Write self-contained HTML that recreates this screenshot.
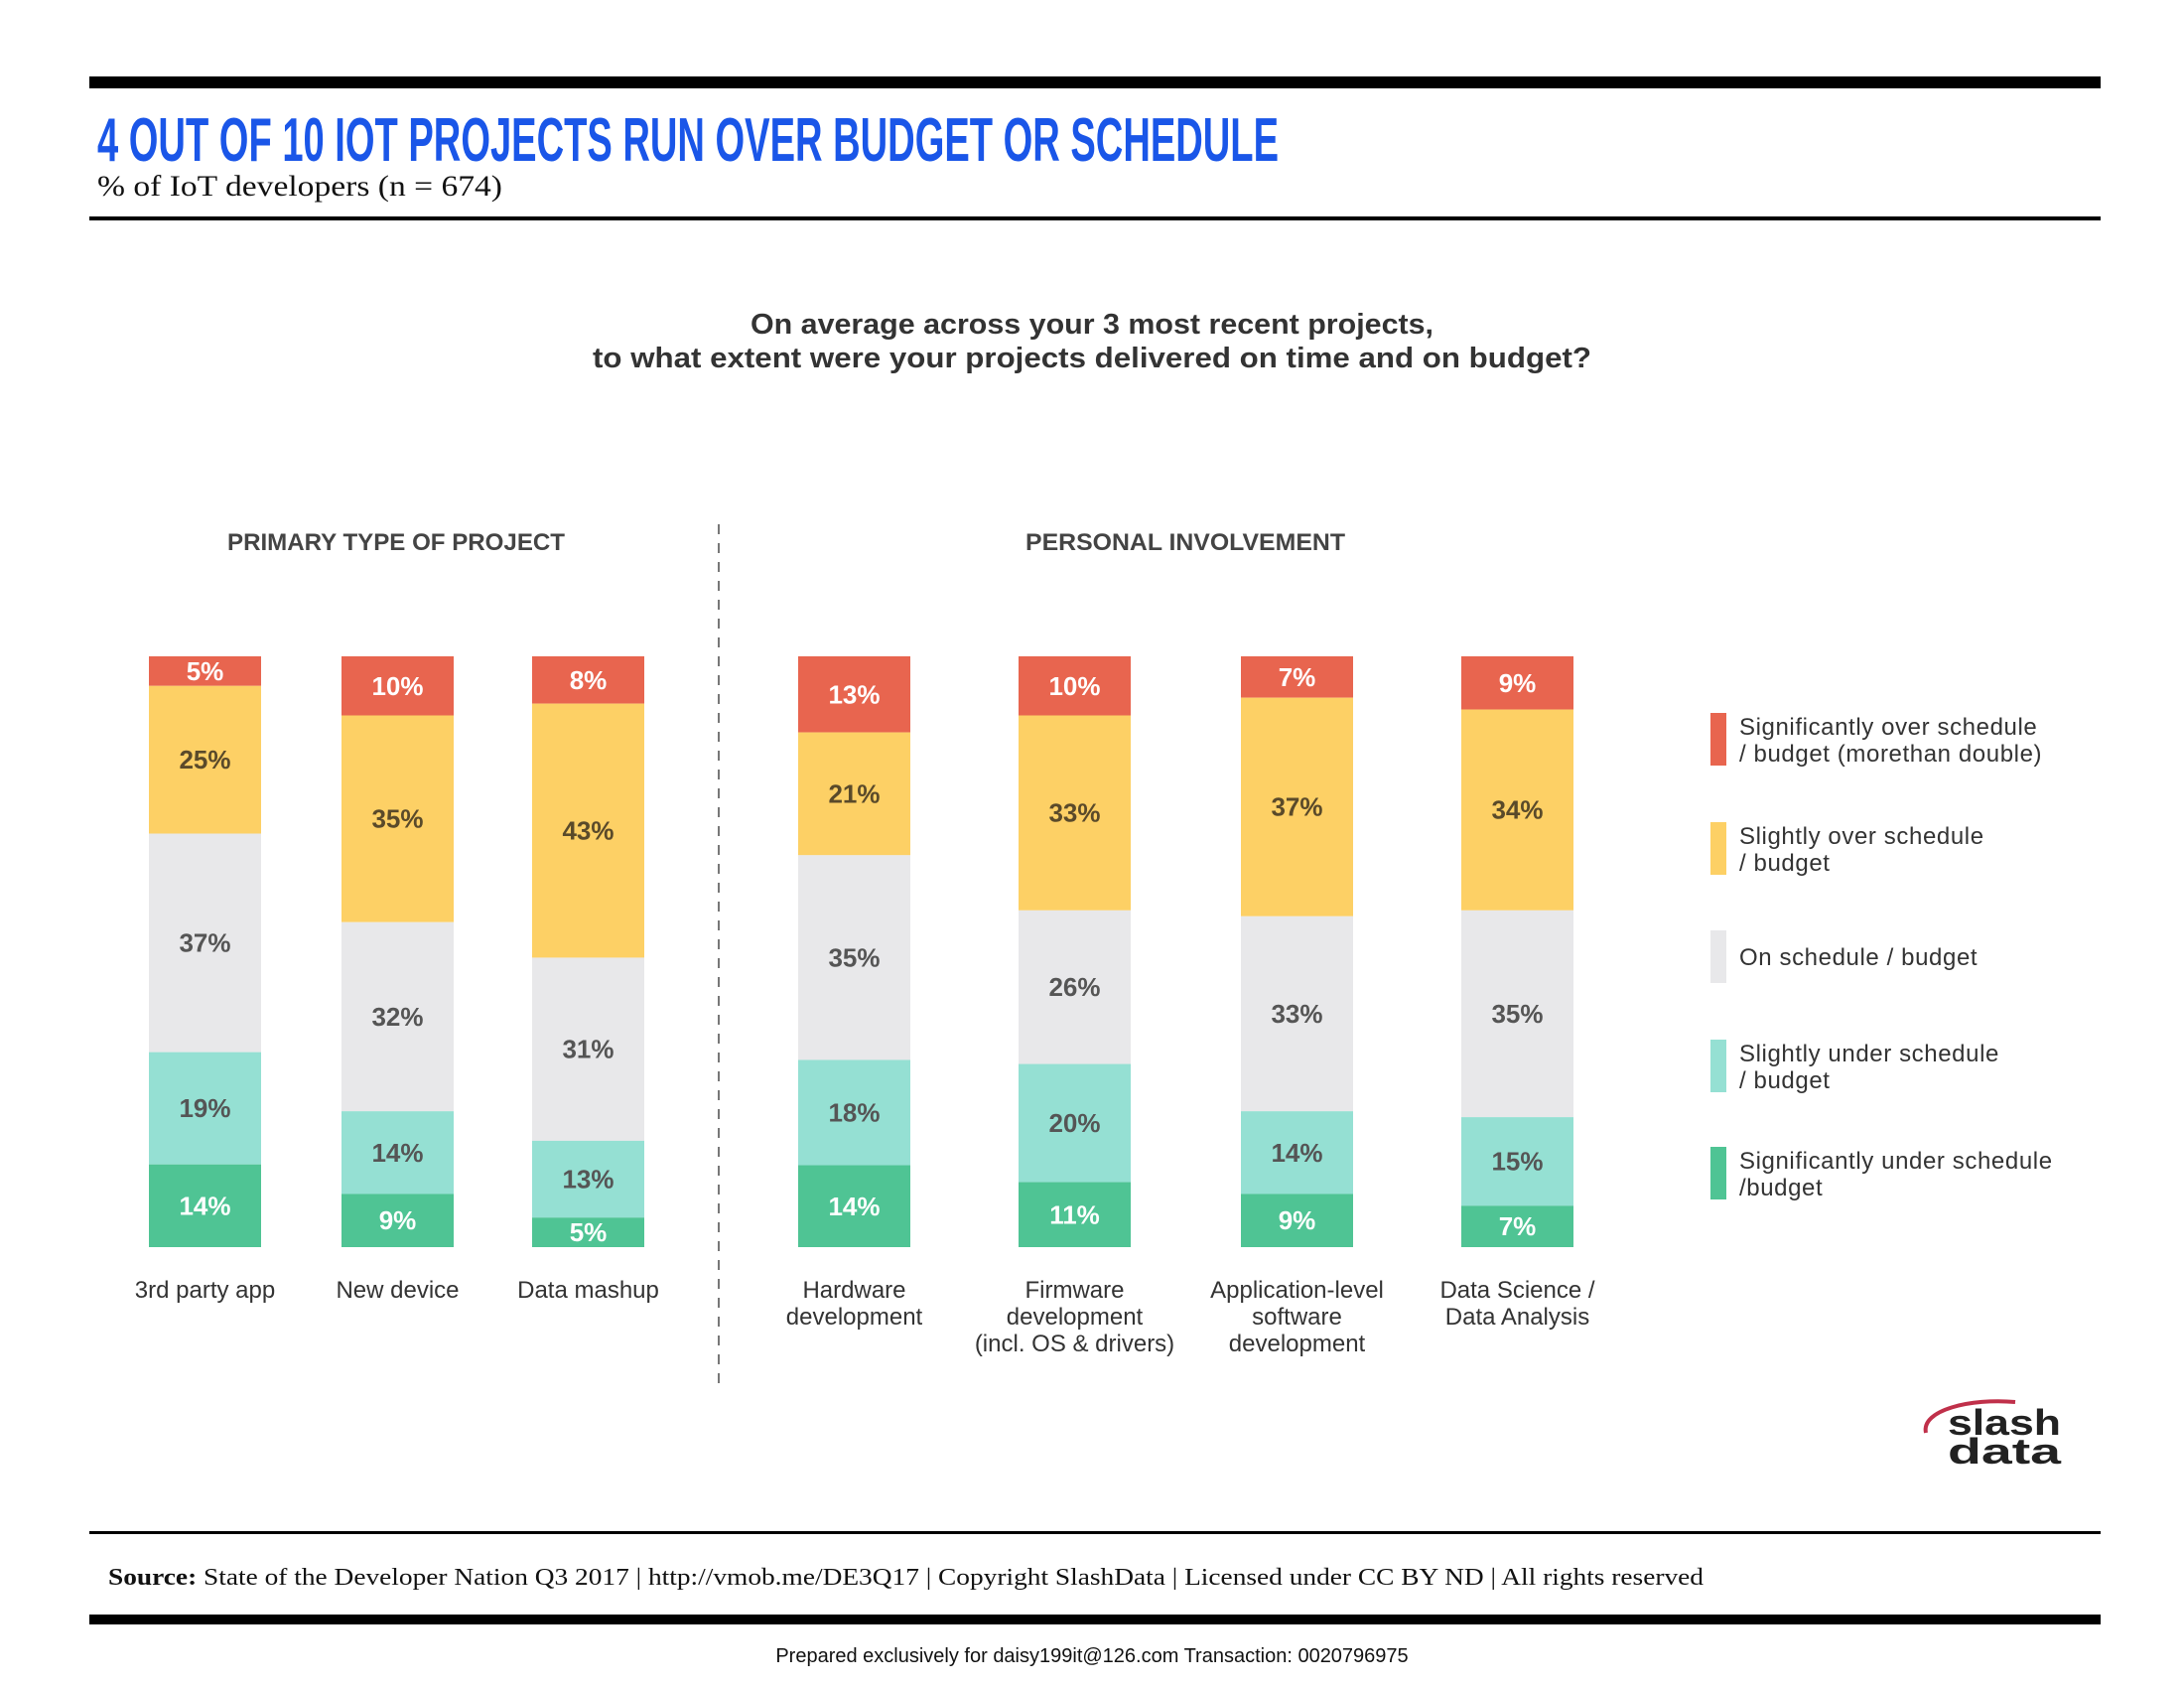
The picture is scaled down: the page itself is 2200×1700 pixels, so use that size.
<!DOCTYPE html>
<html><head><meta charset="utf-8"><style>
html,body{margin:0;padding:0;background:#fff;}
svg{display:block;}
</style></head><body>
<svg id="chart" width="2200" height="1700" xmlns="http://www.w3.org/2000/svg">
<rect x="0" y="0" width="2200" height="1700" fill="#fff"/>
<rect x="90" y="77" width="2026" height="12" fill="#000"/>
<text x="98" y="162" font-family="'Liberation Sans Narrow','Liberation Sans',sans-serif" font-weight="bold" font-size="62" fill="#1a56e8" textLength="1190" lengthAdjust="spacingAndGlyphs">4 OUT OF 10 IOT PROJECTS RUN OVER BUDGET OR SCHEDULE</text>
<text x="98" y="197" font-family="'Liberation Serif',serif" font-size="30" fill="#111" textLength="408" lengthAdjust="spacingAndGlyphs">% of IoT developers (n = 674)</text>
<rect x="90" y="218" width="2026" height="4" fill="#000"/>
<text x="1100" y="336" text-anchor="middle" font-family="'Liberation Sans',sans-serif" font-weight="bold" font-size="29" fill="#333" textLength="688" lengthAdjust="spacingAndGlyphs">On average across your 3 most recent projects,</text>
<text x="1100" y="370" text-anchor="middle" font-family="'Liberation Sans',sans-serif" font-weight="bold" font-size="29" fill="#333" textLength="1006" lengthAdjust="spacingAndGlyphs">to what extent were your projects delivered on time and on budget?</text>
<text x="399" y="554" text-anchor="middle" font-family="'Liberation Sans',sans-serif" font-weight="bold" font-size="24" fill="#444" textLength="340" lengthAdjust="spacingAndGlyphs">PRIMARY TYPE OF PROJECT</text>
<text x="1194" y="554" text-anchor="middle" font-family="'Liberation Sans',sans-serif" font-weight="bold" font-size="24" fill="#444" textLength="322" lengthAdjust="spacingAndGlyphs">PERSONAL INVOLVEMENT</text>
<line x1="724" y1="528" x2="724" y2="1396" stroke="#777" stroke-width="2" stroke-dasharray="10,9"/>
<g id="bars"></g>
<g id="legend"></g>
<g>
<path d="M1940,1443 C1935,1420 1985,1408 2030,1412" stroke="#c0304a" stroke-width="4" fill="none"/>
<text x="1962" y="1445" font-family="'Liberation Sans',sans-serif" font-weight="bold" font-size="36" fill="#222" textLength="114" lengthAdjust="spacingAndGlyphs">slash</text>
<text x="1962" y="1474" font-family="'Liberation Sans',sans-serif" font-weight="bold" font-size="36" fill="#222" textLength="114" lengthAdjust="spacingAndGlyphs">data</text>
</g>
<rect x="90" y="1542" width="2026" height="3" fill="#000"/>
<text x="109" y="1596" font-family="'Liberation Serif',serif" font-size="24" fill="#111" textLength="1607" lengthAdjust="spacingAndGlyphs"><tspan font-weight="bold">Source:</tspan> State of the Developer Nation Q3 2017  |  http://vmob.me/DE3Q17  |  Copyright SlashData  |  Licensed under CC BY ND  |  All rights reserved</text>
<rect x="90" y="1626" width="2026" height="10" fill="#000"/>
<text x="1100" y="1674" text-anchor="middle" font-family="'Liberation Sans',sans-serif" font-size="20" fill="#111">Prepared exclusively for daisy199it@126.com  Transaction: 0020796975</text>
</svg>
<script>
const categories = [["3rd party app"],["New device"],["Data mashup"],["Hardware","development"],["Firmware","development","(incl. OS & drivers)"],["Application-level","software","development"],["Data Science /","Data Analysis"]];
const sigOver = [5,10,8,13,10,7,9];
const slightOver = [25,35,43,21,33,37,34];
const onSchedule = [37,32,31,35,26,33,35];
const slightUnder = [19,14,13,18,20,14,15];
const sigUnder = [14,9,5,14,11,9,7];
const seriesNames = ["Significantly over schedule|/ budget (morethan double)","Slightly over schedule|/ budget","On schedule / budget","Slightly under schedule|/ budget","Significantly under schedule|/budget"];

const NS = "http://www.w3.org/2000/svg";
const colors = ["#e8654f","#fdd065","#e8e8ea","#95e0d3","#4fc494"];
const textColors = ["#fff","#5a4a2a","#555","#555","#fff"];
const barX = [150,344,536,804,1026,1250,1472];
const barW = 113, barTop = 661, plotH = 595;
const series = [sigOver, slightOver, onSchedule, slightUnder, sigUnder];
const g = document.getElementById('bars');
function yScale(v, total){ return v / total * plotH; }
categories.forEach((cat, i) => {
  let total = 0; series.forEach(s => total += s[i]);
  let y = barTop;
  series.forEach((s, k) => {
    const h = yScale(s[i], total);
    const r = document.createElementNS(NS,'rect');
    r.setAttribute('x', barX[i]); r.setAttribute('y', y);
    r.setAttribute('width', barW); r.setAttribute('height', h);
    r.setAttribute('fill', colors[k]);
    
    
    g.appendChild(r);
    const t = document.createElementNS(NS,'text');
    t.setAttribute('x', barX[i] + barW/2); t.setAttribute('y', y + h/2 + 9);
    t.setAttribute('text-anchor','middle');
    t.setAttribute('font-family',"'Liberation Sans',sans-serif");
    t.setAttribute('font-weight','bold'); t.setAttribute('font-size','26');
    t.setAttribute('fill', textColors[k]);
    t.textContent = s[i] + '%';
    
    
    g.appendChild(t);
    y += h;
  });
  cat.forEach((line, j) => {
    const t = document.createElementNS(NS,'text');
    t.setAttribute('x', barX[i] + barW/2); t.setAttribute('y', 1307 + j*27);
    t.setAttribute('text-anchor','middle');
    t.setAttribute('font-family',"'Liberation Sans',sans-serif");
    t.setAttribute('font-size','24'); t.setAttribute('fill','#333');
    t.textContent = line;
    
    
    g.appendChild(t);
  });
});
const lg = document.getElementById('legend');
const legY = [718,828,937,1047,1155];
seriesNames.forEach((name, k) => {
  const r = document.createElementNS(NS,'rect');
  r.setAttribute('x',1723); r.setAttribute('y',legY[k]);
  r.setAttribute('width',16); r.setAttribute('height',53);
  r.setAttribute('fill',colors[k]);
  
  
  lg.appendChild(r);
  const lines = name.split('|');
  const base = lines.length === 1 ? legY[k] + 35 : legY[k] + 22;
  lines.forEach((ln, j) => {
    const t = document.createElementNS(NS,'text');
    t.setAttribute('x',1752); t.setAttribute('y', base + j*27);
    t.setAttribute('font-family',"'Liberation Sans',sans-serif");
    t.setAttribute('font-size','24'); t.setAttribute('letter-spacing','0.6'); t.setAttribute('fill','#333');
    t.textContent = ln;
    
    
    lg.appendChild(t);
  });
});
</script>
</body></html>
